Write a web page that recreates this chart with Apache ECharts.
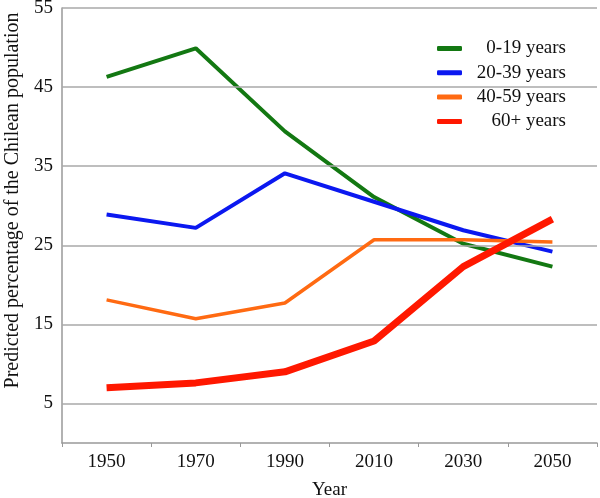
<!DOCTYPE html>
<html><head><meta charset="utf-8">
<script src="https://cdn.jsdelivr.net/npm/echarts@6/dist/echarts.min.js"></script>
<style>html,body{margin:0;padding:0;background:#fff}#c{width:600px;height:498px}</style>
</head><body><div id="c"></div>
<script>
const years = ['1950','1970','1990','2010','2030','2050'];
const yTicks = [5, 15, 25, 35, 45, 55];
const age0_19 = [46.3, 49.9, 39.4, 31.1, 25.2, 22.3];
const age20_39 = [28.9, 27.2, 34.1, 30.5, 26.9, 24.2];
const age40_59 = [18.1, 15.7, 17.7, 25.7, 25.7, 25.4];
const age60p = [7.0, 7.6, 9.0, 12.9, 22.3, 28.3];
const names = ['0-19 years', '20-39 years', '40-59 years', '60+ years'];
const colors = ['#137812', '#0b18f0', '#ff6a12', '#ff1800'];
const widths = [4, 4, 3.5, 7];
const font = 'Liberation Serif, Times New Roman, serif';

const chart = echarts.init(document.getElementById('c'));
const seriesData = [age0_19, age20_39, age40_59, age60p];
chart.setOption({
  animation: false,
  grid: {left: 62, right: 3, top: 8, bottom: 55, containLabel: false, outerBoundsMode: 'none'},
  legend: {
    orient: 'vertical', left: 437, top: 39, padding: 0, itemWidth: 25, itemHeight: 5, itemGap: 5.3,
    icon: 'roundRect',
    data: names,
    formatter: n => '{a|' + n + '}',
    textStyle: {fontFamily: font, fontSize: 19, color: '#111',
      rich: {a: {width: 99, align: 'right', fontFamily: font, fontSize: 19, color: '#111', lineHeight: 19}}}
  },
  xAxis: {
    type: 'category', data: years, boundaryGap: true,
    name: 'Year', nameLocation: 'middle', nameGap: 38,
    nameTextStyle: {fontFamily: font, fontSize: 19, color: '#111'},
    axisLine: {lineStyle: {color: '#999', width: 1.5}},
    axisTick: {show: true, length: 4, lineStyle: {color: '#999'}},
    axisLabel: {fontFamily: font, fontSize: 19, color: '#111', margin: 10}
  },
  yAxis: {
    type: 'value', min: 0, max: 55,
    name: 'Predicted percentage of the Chilean population', nameLocation: 'middle', nameGap: 38,
    nameTextStyle: {fontFamily: font, fontSize: 20, color: '#111', padding: [0, 0, 0, 50]},
    axisLine: {show: true, lineStyle: {color: '#999', width: 1.5}},
    axisTick: {show: false, customValues: yTicks},
    axisLabel: {customValues: yTicks, fontFamily: font, fontSize: 19, color: '#111', margin: 9},
    splitLine: {show: false}
  },
  series: seriesData.map((d, i) => ({
    name: names[i], type: 'line', data: d, symbol: 'none',
    lineStyle: {color: colors[i], width: widths[i]}, itemStyle: {color: colors[i]},
    z: 3 + i,
    markLine: i === 0 ? {
      silent: true, symbol: 'none', label: {show: false},
      lineStyle: {color: '#a8a8a8', width: 1.5, type: 'solid'},
      data: yTicks.map(v => ({yAxis: v}))
    } : undefined
  }))
});
</script></body></html>
